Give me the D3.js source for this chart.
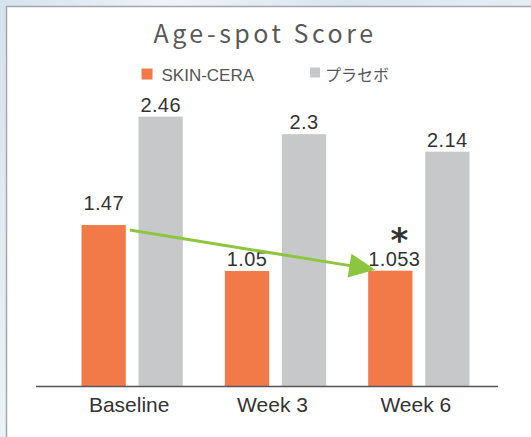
<!DOCTYPE html>
<html><head><meta charset="utf-8">
<script src="https://cdn.jsdelivr.net/npm/d3@7"></script>
<style>
html,body{margin:0;padding:0;background:#e4ecf4;}
svg{display:block;}
</style></head>
<body>
<script>
const categories = ["Baseline", "Week 3", "Week 6"];
const seriesNames = ["SKIN-CERA", "プラセボ"];
const skinCera = [1.47, 1.05, 1.053];
const placebo = [2.46, 2.3, 2.14];
const skinCeraLabels = ["1.47", "1.05", "1.053"];
const placeboLabels = ["2.46", "2.3", "2.14"];
const colors = ["#f27a48", "#c7c8ca"];

const W = 531, H = 437;
const svg = d3.select("body").append("svg").attr("width", W).attr("height", H);

// marble-ish background
const defs = svg.append("defs");
const g1 = defs.append("linearGradient").attr("id","bg").attr("x1","0").attr("y1","0").attr("x2","1").attr("y2","0.3");
g1.append("stop").attr("offset","0").attr("stop-color","#d6e2ee");
g1.append("stop").attr("offset","0.3").attr("stop-color","#eef3f8");
g1.append("stop").attr("offset","0.6").attr("stop-color","#d9e4ef");
g1.append("stop").attr("offset","1").attr("stop-color","#e9f0f6");
svg.append("rect").attr("width", W).attr("height", H).attr("fill", "url(#bg)");

// panel
svg.append("rect").attr("x", 7).attr("y", 7).attr("width", W).attr("height", H).attr("fill", "#fff");
svg.append("line").attr("x1", 6.5).attr("x2", 6.5).attr("y1", 6).attr("y2", H).attr("stroke", "#a3a6aa").attr("stroke-width", 1.5);
svg.append("line").attr("x1", 6).attr("x2", W).attr("y1", 6.5).attr("y2", 6.5).attr("stroke", "#a3a6aa").attr("stroke-width", 1.5);

// scales
const x = d3.scaleBand().domain(categories).range([60.5, 490.5]).padding(0);
const groupW = 101.3;
const xs = d3.scaleBand().domain(seriesNames).range([0, groupW]).paddingInner(0.223).paddingOuter(0);
const y = d3.scaleLinear().domain([0, 3]).range([386, 57.5]);
const color = d3.scaleOrdinal().domain(seriesNames).range(colors);

const gx = c => x(c) + x.bandwidth() / 2 - groupW / 2;

const rows = categories.map((c, i) => [
  {cat: c, s: seriesNames[0], v: skinCera[i], lab: skinCeraLabels[i]},
  {cat: c, s: seriesNames[1], v: placebo[i], lab: placeboLabels[i]}
]).flat();

svg.append("g").selectAll("rect").data(rows).join("rect")
  .attr("x", d => gx(d.cat) + xs(d.s))
  .attr("y", d => y(d.v))
  .attr("width", xs.bandwidth())
  .attr("height", d => y(0) - y(d.v))
  .attr("fill", d => color(d.s));

// value labels
svg.append("g").selectAll("text").data(rows).join("text")
  .attr("x", d => gx(d.cat) + xs(d.s) + xs.bandwidth() / 2 + (d.lab === "1.053" ? 4 : 0))
  .attr("y", d => y(d.v) - (d.lab === "1.47" ? 15 : 5))
  .attr("text-anchor", "middle")
  .attr("font-family", "'Liberation Sans', Arial, sans-serif")
  .attr("font-size", 20)
  .attr("letter-spacing", 0.4)
  .attr("fill", "#333")
  .text(d => d.lab);

// axis
const axisG = svg.append("g").attr("transform", `translate(0,${y(0) + 0.5})`);
axisG.call(d3.axisBottom(x).tickSize(0).tickPadding(8));
axisG.select(".domain").remove();
axisG.append("line").attr("x1", 36).attr("x2", 498).attr("y1", 0).attr("y2", 0).attr("stroke", "#555").attr("stroke-width", 1.5);
axisG.selectAll(".tick text")
  .attr("font-family", "'Liberation Sans', Arial, sans-serif")
  .attr("font-size", 21)
  .attr("fill", "#333")
  .attr("dx", -3)
  .attr("dy", "0.85em");

// title
svg.append("text").attr("x", 265).attr("y", 43)
  .attr("text-anchor", "middle")
  .attr("font-family", "'Noto Sans CJK JP', 'Noto Sans', sans-serif")
  .attr("font-size", 25)
  .attr("letter-spacing", 3.5)
  .attr("fill", "#595959")
  .text("Age-spot Score");

// legend
const leg = [{name: seriesNames[0], x: 141.5, sq: 11, fs: 17, ff: "'Liberation Sans', Arial, sans-serif"},
             {name: seriesNames[1], x: 310, sq: 10, fs: 16, ff: "'Noto Sans CJK JP', sans-serif"}];
const lg = svg.append("g").selectAll("g").data(leg).join("g");
lg.append("rect").attr("x", d => d.x).attr("y", d => 79.5 - d.sq - (d.sq === 10 ? 2 : 0)).attr("width", d => d.sq).attr("height", d => d.sq).attr("fill", d => color(d.name));
lg.append("text").attr("x", d => d.x + d.sq + (d.sq === 11 ? 9 : 5)).attr("y", 80.5)
  .attr("font-family", d => d.ff).attr("font-size", d => d.fs).attr("fill", "#555").text(d => d.name);

// arrow annotation (SKIN-CERA Baseline -> Week 6)
const ax1 = gx(categories[0]) + xs(seriesNames[0]) + xs.bandwidth() + 4;
const ay1 = y(skinCera[0]) + 5;
const ax2 = gx(categories[2]) + xs(seriesNames[0]) + 7;
const ay2 = y(skinCera[2]) - 1;
const ang = Math.atan2(ay2 - ay1, ax2 - ax1);
const headL = 26, headW = 12;
const bx = ax2 - headL * Math.cos(ang), by = ay2 - headL * Math.sin(ang);
svg.append("line").attr("x1", ax1).attr("y1", ay1).attr("x2", bx + 2 * Math.cos(ang)).attr("y2", by + 2 * Math.sin(ang))
  .attr("stroke", "#8cc63f").attr("stroke-width", 3);
svg.append("path")
  .attr("d", d3.line()([[ax2, ay2], [bx - headW * Math.sin(ang), by + headW * Math.cos(ang)], [bx + headW * Math.sin(ang), by - headW * Math.cos(ang)]]) + "Z")
  .attr("fill", "#8cc63f");

// significance mark
svg.append("text")
  .attr("x", gx(categories[2]) + xs(seriesNames[0]) + xs.bandwidth() / 2 + 9)
  .attr("y", y(skinCera[2]) - 5 - 14)
  .attr("text-anchor", "middle")
  .attr("font-family", "'DejaVu Sans', sans-serif")
  .attr("font-weight", "bold")
  .attr("font-size", 34)
  .attr("fill", "#333")
  .text("*");
</script>
</body></html>
